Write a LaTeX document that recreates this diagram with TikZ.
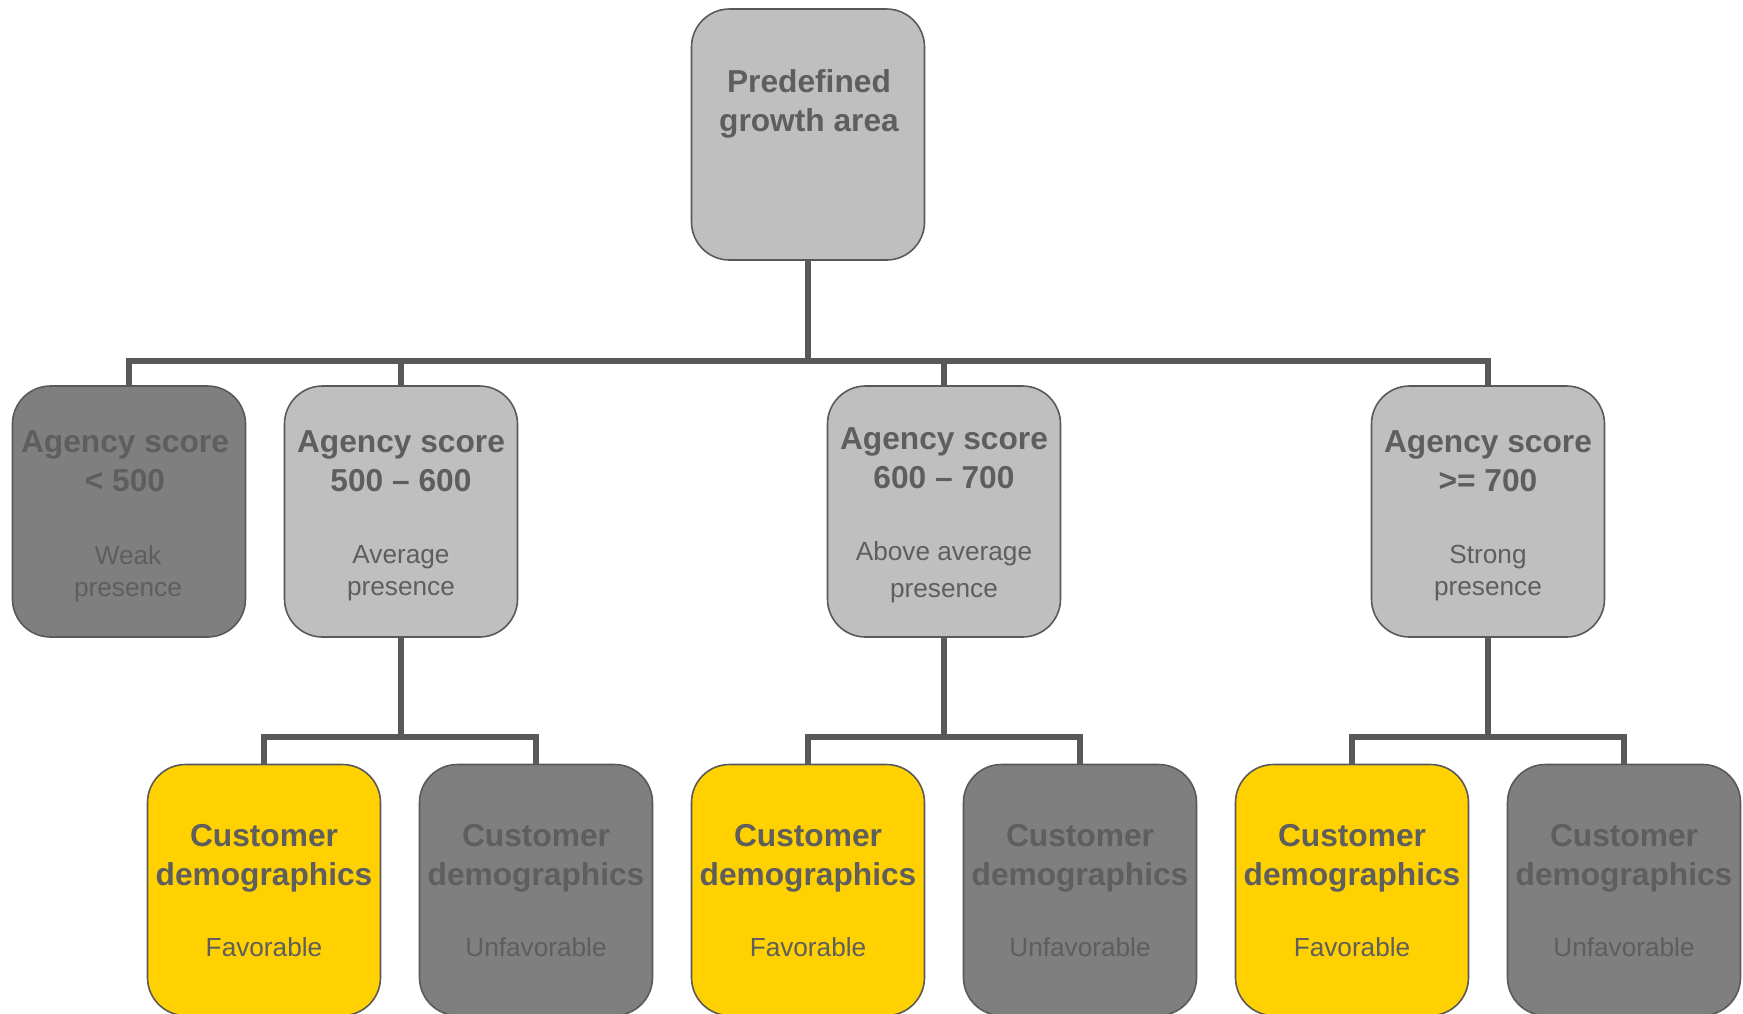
\documentclass[tikz,border=0pt]{standalone}
\usepackage{fontspec}
\setmainfont{Liberation Sans}
\definecolor{lg}{HTML}{BFBFBF}
\definecolor{dg}{HTML}{7F7F7F}
\definecolor{yl}{HTML}{FFD100}
\definecolor{ln}{HTML}{595959}
\definecolor{tx}{HTML}{5E5E5E}
\begin{document}
\begin{tikzpicture}[x=1pt,y=-1pt,
  box/.style={draw=ln, line width=1.6pt, rounded corners=38pt, minimum width=233pt, minimum height=251pt, inner sep=0pt},
  light/.style={box, fill=lg},
  dark/.style={box, fill=dg},
  yel/.style={box, fill=yl},
  ttl/.style={text=tx, font=\fontsize{31.7}{39}\selectfont\bfseries, align=center, inner sep=0pt, execute at begin node=\strut, execute at end node=\strut},
  sub/.style={text=tx, font=\fontsize{26.2}{32}\selectfont, align=center, inner sep=0pt, execute at begin node=\strut, execute at end node=\strut},
  conn/.style={draw=ln, line width=5.2pt, line join=miter}]
\useasboundingbox (0,0) rectangle (1743,1013);
\clip (0,0) rectangle (1743,1013);

\coordinate (bar0) at (808,361);
\coordinate (barB) at (401,737);
\coordinate (barC) at (944,737);
\coordinate (barD) at (1488,737);

% boxes
\node[light] (T) at (808,134.5) {};
\node[dark]  (A) at (129,511.5) {};
\node[light] (B) at (401,511.5) {};
\node[light] (C) at (944,511.5) {};
\node[light] (D) at (1488,511.5) {};
\node[yel]   (E) at (264,890) {};
\node[dark]  (F) at (536,890) {};
\node[yel]   (G) at (808,890) {};
\node[dark]  (H) at (1080,890) {};
\node[yel]   (I) at (1352,890) {};
\node[dark]  (J) at (1624,890) {};

% connectors
\draw[conn] (T.south) -- (bar0);
\draw[conn] (A.north) |- (bar0) -| (D.north);
\draw[conn] (B.north) -- (B.north |- bar0);
\draw[conn] (C.north) -- (C.north |- bar0);

\draw[conn] (B.south) -- (barB);
\draw[conn] (E.north) |- (barB) -| (F.north);
\draw[conn] (C.south) -- (barC);
\draw[conn] (G.north) |- (barC) -| (H.north);
\draw[conn] (D.south) -- (barD);
\draw[conn] (I.north) |- (barD) -| (J.north);

% texts
\node[ttl] (Tt) at (809,106) {Predefined\\growth area};

\node[ttl] (At) at (125,467) {Agency score\\< 500};
\node[sub] (As) at (128,575.5) {Weak\\presence};
\node[ttl] (Bt) at (401,467) {Agency score\\500 – 600};
\node[sub] (Bs) at (401,575.5) {Average\\presence};
\node[ttl] (Ct) at (944,464) {Agency score\\600 – 700};
\node[sub] (Cs) at (944,574) {Above average\\[5pt]presence};
\node[ttl] (Dt) at (1488,467) {Agency score\\>= 700};
\node[sub] (Ds) at (1488,575.5) {Strong\\presence};

\node[ttl] (Et) at (264,861) {Customer\\demographics};
\node[sub] (Es) at (264,950.5) {Favorable};
\node[ttl] (Ft) at (536,861) {Customer\\demographics};
\node[sub] (Fs) at (536,950.5) {Unfavorable};
\node[ttl] (Gt) at (808,861) {Customer\\demographics};
\node[sub] (Gs) at (808,950.5) {Favorable};
\node[ttl] (Ht) at (1080,861) {Customer\\demographics};
\node[sub] (Hs) at (1080,950.5) {Unfavorable};
\node[ttl] (It) at (1352,861) {Customer\\demographics};
\node[sub] (Is) at (1352,950.5) {Favorable};
\node[ttl] (Jt) at (1624,861) {Customer\\demographics};
\node[sub] (Js) at (1624,950.5) {Unfavorable};
\end{tikzpicture}
\end{document}
